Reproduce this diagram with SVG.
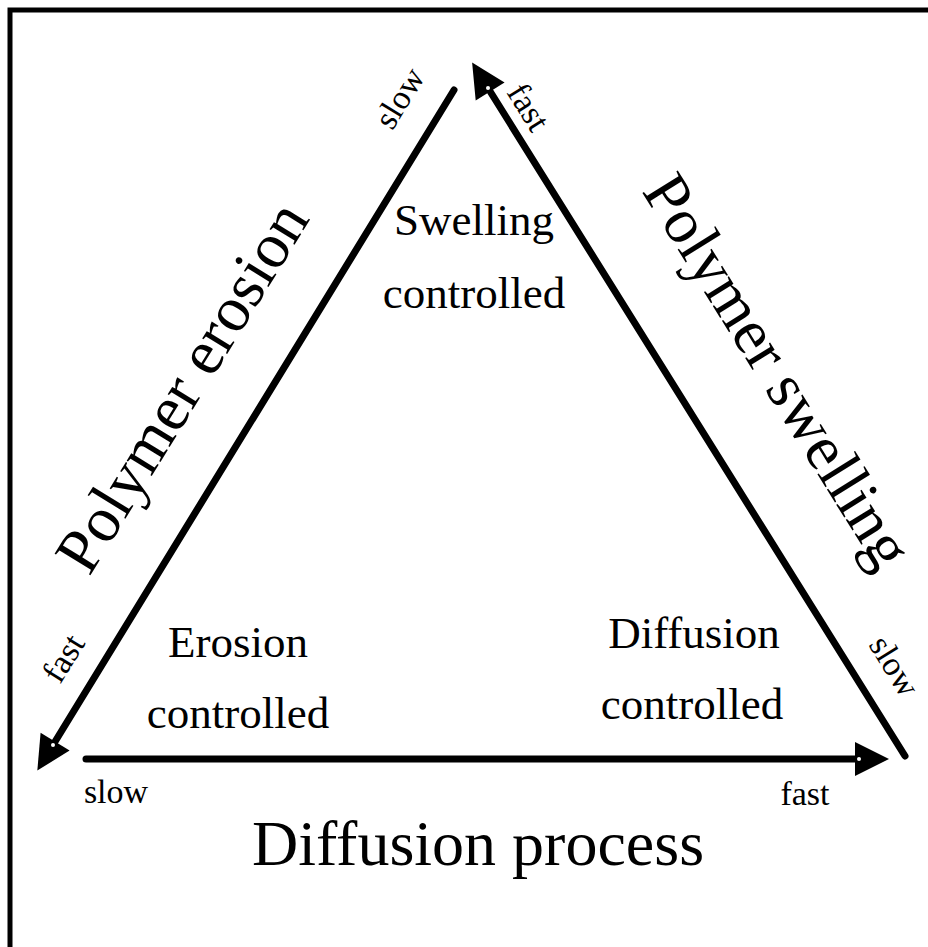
<svg xmlns="http://www.w3.org/2000/svg" width="928" height="947" viewBox="0 0 928 947">
  <style>
    .frame { fill: none; stroke: #000; stroke-width: 5; }
    .conn { stroke: #000; stroke-width: 7; stroke-linecap: round; fill: none; }
    .dot { fill: #fff; }
    text { font-family: "Liberation Serif", "Times New Roman", serif; fill: #000; text-anchor: middle; }
    .big { font-size: 64px; }
    .mid { font-size: 45px; }
    .small { font-size: 34px; }
  </style>
  <defs>
    <marker id="arrow" markerUnits="userSpaceOnUse" markerWidth="34" markerHeight="34" refX="4" refY="17" orient="auto" overflow="visible">
      <path d="M0,0 L34,17 L0,34 Z" fill="#000"/>
    </marker>
  </defs>
  <rect width="928" height="947" fill="#fff"/>
  <rect class="frame" x="10" y="10" width="940" height="960"/>

  <g id="connectors">
    <line class="conn" x1="454" y1="90" x2="53" y2="745" marker-end="url(#arrow)"/>
    <line class="conn" x1="905" y1="756" x2="488" y2="88" marker-end="url(#arrow)"/>
    <line class="conn" x1="86" y1="759" x2="859" y2="759" marker-end="url(#arrow)"/>
    <circle class="dot" cx="53" cy="745" r="2"/>
    <circle class="dot" cx="488" cy="88" r="2"/>
    <circle class="dot" cx="859" cy="759" r="2"/>
  </g>

  <g id="polymer-erosion">
    <text class="big" transform="translate(200,398) rotate(-58.3)">Polymer erosion</text>
    <text class="small" transform="translate(409,104) rotate(-58.3)">slow</text>
    <text class="small" transform="translate(73,664) rotate(-58.3)">fast</text>
  </g>

  <g id="polymer-swelling">
    <text class="big" transform="translate(760,382) rotate(58.1)">Polymer swelling</text>
    <text class="small" transform="translate(519,113) rotate(58.1)">fast</text>
    <text class="small" transform="translate(885,672) rotate(58.1)">slow</text>
  </g>

  <g id="diffusion-process">
    <text class="big" x="478" y="865">Diffusion process</text>
    <text class="small" x="116" y="803">slow</text>
    <text class="small" x="805" y="805">fast</text>
  </g>

  <g id="swelling-controlled">
    <text class="mid" x="474" y="235">Swelling</text>
    <text class="mid" x="474" y="308">controlled</text>
  </g>

  <g id="erosion-controlled">
    <text class="mid" x="238" y="657">Erosion</text>
    <text class="mid" x="238" y="728">controlled</text>
  </g>

  <g id="diffusion-controlled">
    <text class="mid" x="694" y="648">Diffusion</text>
    <text class="mid" x="692" y="719">controlled</text>
  </g>
</svg>
